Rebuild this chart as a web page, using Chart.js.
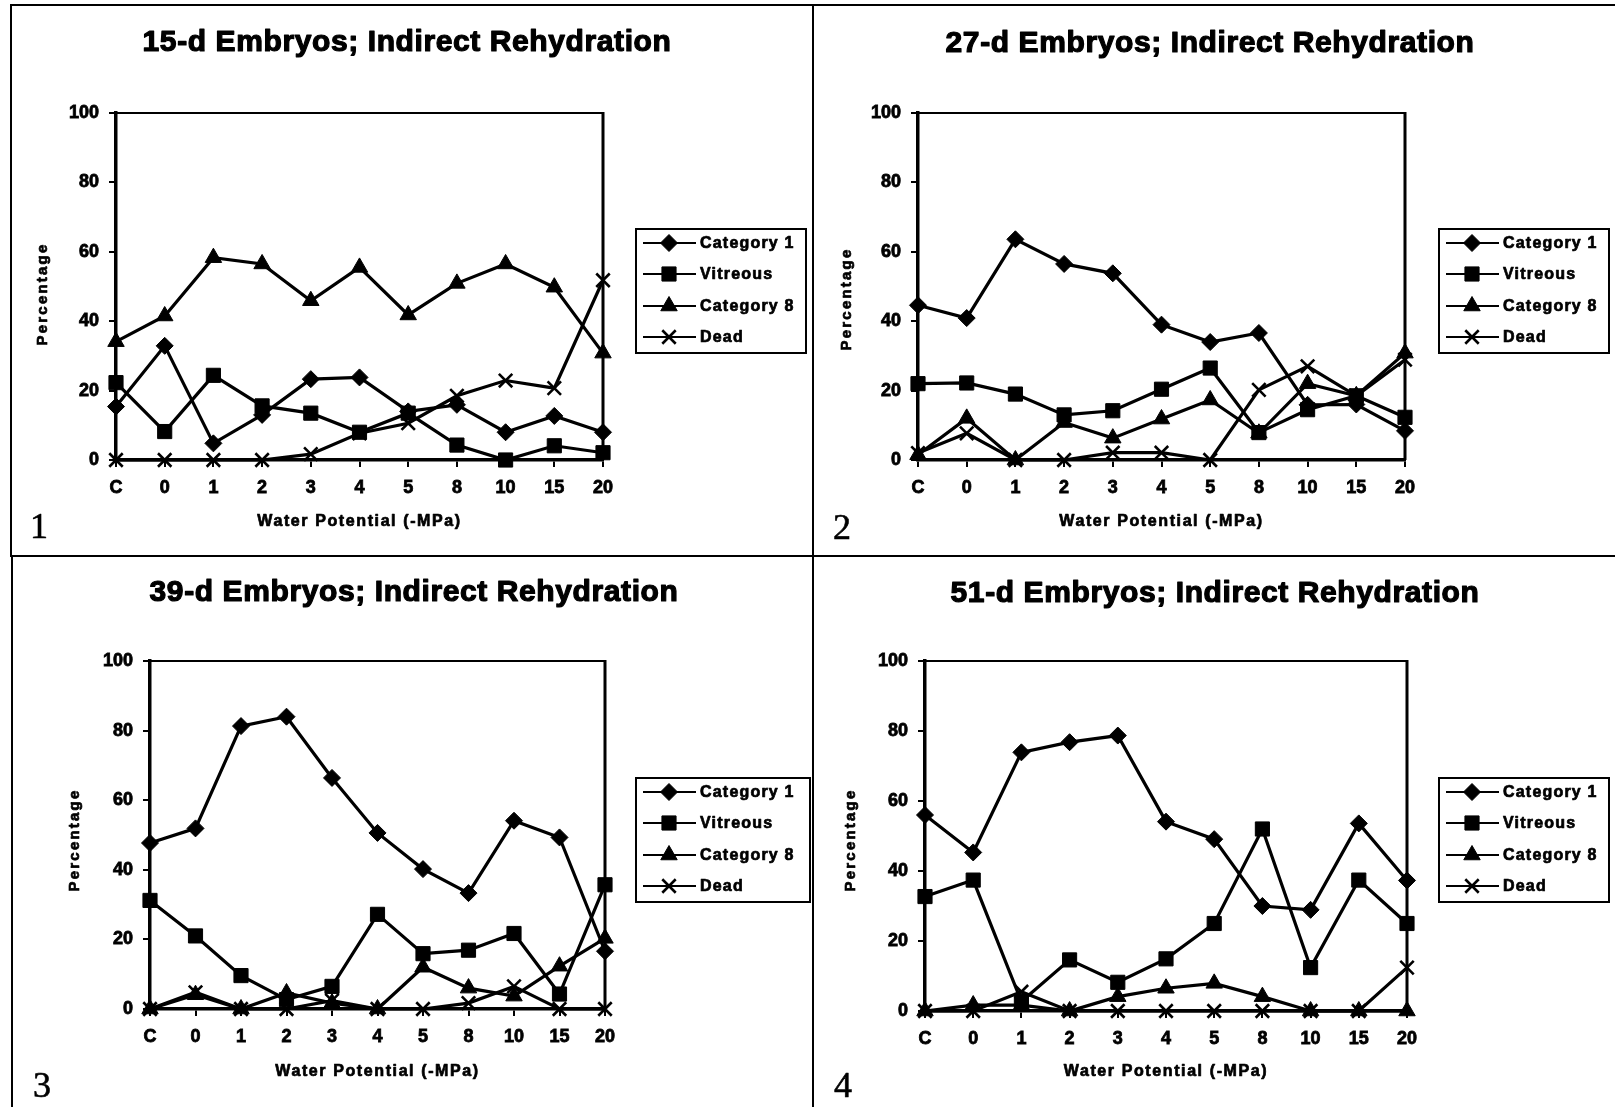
<!DOCTYPE html>
<html>
<head>
<meta charset="utf-8">
<title>Embryo survival after indirect rehydration</title>
<script src="https://cdn.jsdelivr.net/npm/chart.js@4.4.1/dist/chart.umd.min.js"></script>
<style>
  html, body { margin: 0; padding: 0; background: #fff; }
  body { width: 1615px; height: 1107px; position: relative; overflow: hidden; }
  .rule { position: absolute; background: #000; }
  canvas { position: absolute; }
</style>
</head>
<body>
<!-- figure frame and panel dividers -->
<div class="rule" style="left:10px;top:4px;width:1605px;height:2px"></div>
<div class="rule" style="left:10px;top:4px;width:2px;height:553px"></div>
<div class="rule" style="left:11px;top:556px;width:2px;height:551px"></div>
<div class="rule" style="left:812px;top:4px;width:2px;height:1103px"></div>
<div class="rule" style="left:10px;top:555px;width:1605px;height:2px"></div>

<canvas id="p1" width="802" height="551" style="left:11px;top:5px"></canvas>
<canvas id="p2" width="802" height="551" style="left:813px;top:5px"></canvas>
<canvas id="p3" width="802" height="551" style="left:12px;top:556px"></canvas>
<canvas id="p4" width="801" height="551" style="left:814px;top:556px"></canvas>

<script>
// ---- data -------------------------------------------------------------
const waterPotential = ['C', '0', '1', '2', '3', '4', '5', '8', '10', '15', '20'];
const seriesNames = ['Category 1', 'Vitreous', 'Category 8', 'Dead'];
const yTicks = [0, 20, 40, 60, 80, 100];

// 15-d embryos
const cat1_15d = [15.4, 32.9, 4.8, 13.0, 23.3, 23.8, 14.0, 15.9, 8.0, 12.7, 8.0];
const vitreous_15d = [22.3, 8.2, 24.4, 15.6, 13.5, 8.0, 13.5, 4.3, 0, 4.1, 2.1];
const cat8_15d = [34.1, 41.5, 58.3, 56.5, 45.9, 55.5, 41.8, 50.9, 56.5, 49.8, 30.8];
const dead_15d = [0, 0, 0, 0, 1.7, 7.7, 10.6, 18.5, 22.9, 20.7, 51.8];

// 27-d embryos
const cat1_27d = [44.6, 40.9, 63.6, 56.5, 53.8, 39.0, 34.0, 36.6, 15.9, 16.0, 8.4];
const vitreous_27d = [22.0, 22.2, 19.0, 13.0, 14.2, 20.4, 26.5, 7.9, 14.5, 18.5, 12.3];
const cat8_27d = [1.5, 12.0, 0, 10.8, 6.3, 11.8, 17.3, 7.7, 22.0, 18.5, 30.8];
const dead_27d = [2.0, 7.7, 0, 0, 2.1, 2.1, 0, 20.2, 27.0, 18.5, 28.9];

// 39-d embryos
const cat1_39d = [47.7, 51.9, 81.3, 84.0, 66.4, 50.6, 40.2, 33.3, 54.1, 49.3, 16.6];
const vitreous_39d = [31.2, 21.0, 9.6, 2.7, 6.5, 27.2, 15.9, 16.9, 21.7, 4.3, 35.7];
const cat8_39d = [0, 4.1, 0, 4.6, 1.7, 0, 12.0, 6.0, 3.7, 12.3, 20.3];
const dead_39d = [0, 4.8, 0, 0, 2.4, 0, 0, 1.7, 6.5, 0, 0];

// 51-d embryos
const cat1_51d = [56.0, 45.3, 73.9, 76.8, 78.7, 54.1, 49.1, 30.0, 28.9, 53.6, 37.3];
const vitreous_51d = [32.7, 37.4, 2.7, 14.6, 8.2, 14.9, 25.0, 52.0, 12.4, 37.4, 25.0];
const cat8_51d = [0, 1.7, 1.7, 0, 4.1, 6.5, 7.9, 4.1, 0, 0, 0];
const dead_51d = [0, 0, 5.5, 0, 0, 0, 0, 0, 0, 0, 12.4];

// ---- styling ----------------------------------------------------------
const FONT = '"Liberation Sans", Arial, Helvetica, sans-serif';
const SERIF = '"Liberation Serif", "Times New Roman", serif';
const markers = [
  { pointStyle: 'rectRot', radius: 8.5, borderWidth: 1 },
  { pointStyle: 'rect', radius: 10, borderWidth: 1 },
  { pointStyle: 'triangle', radius: 9.5, borderWidth: 1 },
  { pointStyle: 'crossRot', radius: 9.5, borderWidth: 2.6 }
];
const Y_AXIS_W = 60;
const X_AXIS_H = 40;

Chart.defaults.color = '#000';
Chart.defaults.font.family = FONT;

function drawMarker(ctx, m, x, y) {
  ctx.fillStyle = '#000';
  ctx.strokeStyle = '#000';
  ctx.lineWidth = m.borderWidth;
  if (Chart.helpers && Chart.helpers.drawPoint) {
    Chart.helpers.drawPoint(ctx, { pointStyle: m.pointStyle, radius: m.radius, rotation: 0, borderWidth: m.borderWidth }, x, y);
  }
}

// filled text with an optional thin outline to give the heavy print weight
function text(ctx, str, x, y, font, align, baseline, spacing, rotate, stroke) {
  ctx.save();
  ctx.font = font;
  ctx.fillStyle = '#000';
  ctx.strokeStyle = '#000';
  ctx.textAlign = align;
  ctx.textBaseline = baseline;
  try { ctx.letterSpacing = (spacing || 0) + 'px'; } catch (e) {}
  ctx.translate(x, y);
  if (rotate) ctx.rotate(rotate);
  ctx.fillText(str, 0, 0);
  if (stroke) {
    ctx.lineWidth = stroke;
    ctx.lineJoin = 'round';
    ctx.strokeText(str, 0, 0);
  }
  ctx.restore();
}

// frame around the plot area, titles, legend box and panel number
const panelDecor = {
  id: 'panelDecor',
  beforeDatasetsDraw(chart, args, o) {
    const { ctx, chartArea: a } = chart;
    ctx.save();
    ctx.strokeStyle = '#000';
    ctx.lineWidth = 2;
    ctx.beginPath();
    ctx.moveTo(a.left, a.top);
    ctx.lineTo(a.right, a.top);
    ctx.stroke();
    ctx.lineWidth = 3;
    ctx.beginPath();
    ctx.moveTo(a.right, a.top - 1);
    ctx.lineTo(a.right, a.bottom);
    ctx.stroke();
    ctx.restore();
  },
  afterDraw(chart, args, o) {
    const { ctx, chartArea: a } = chart;
    const ox = o.origin[0], oy = o.origin[1];
    // title
    text(ctx, o.title, o.titlePos[0] - ox, o.titlePos[1] - oy, 'bold 30px ' + FONT, 'center', 'middle', 0.6, 0, 1.2);
    // axis titles
    text(ctx, 'Water Potential (-MPa)', (a.left + a.right) / 2, o.xTitleY - oy, 'bold 16px ' + FONT, 'center', 'middle', 1.6, 0, 0.7);
    text(ctx, 'Percentage', o.yTitlePos[0] - ox, o.yTitlePos[1] - oy, 'bold 15px ' + FONT, 'center', 'middle', 2.2, -Math.PI / 2, 0.7);
    // panel number
    text(ctx, o.number, o.numberPos[0] - ox, o.numberPos[1] - oy, '36px ' + SERIF, 'left', 'alphabetic', 0, 0, 0.6);
    // legend
    const b = o.legendBox;
    const L = b[0] - ox, T = b[1] - oy, R = b[2] - ox, B = b[3] - oy;
    ctx.save();
    ctx.strokeStyle = '#000';
    ctx.lineWidth = 2;
    ctx.strokeRect(L, T, R - L, B - T);
    ctx.restore();
    const rowOffsets = [14, 45, 77, 108];
    seriesNames.forEach((name, i) => {
      const y = T + rowOffsets[i];
      ctx.save();
      ctx.strokeStyle = '#000';
      ctx.lineWidth = 2.2;
      ctx.beginPath();
      ctx.moveTo(L + 7, y);
      ctx.lineTo(L + 60, y);
      ctx.stroke();
      drawMarker(ctx, markers[i], L + 33, y);
      ctx.restore();
      text(ctx, name, L + 64, y + 1, 'bold 16px ' + FONT, 'left', 'middle', 1.2, 0, 0.7);
    });
  }
};

function makePanel(cfg) {
  const canvas = document.getElementById(cfg.id);
  const cx = cfg.canvas[0], cy = cfg.canvas[1];
  const cw = canvas.width, ch = canvas.height;
  const area = cfg.area; // [left, top, right, bottom] on the page
  const padding = {
    left: area[0] - cx - Y_AXIS_W,
    top: area[1] - cy,
    right: cx + cw - area[2],
    bottom: cy + ch - area[3] - X_AXIS_H
  };
  const datasets = seriesNames.map((name, i) => ({
    label: name,
    data: cfg.series[i],
    borderColor: '#000',
    backgroundColor: '#000',
    borderWidth: 3.2,
    pointStyle: markers[i].pointStyle,
    pointRadius: markers[i].radius,
    pointBorderWidth: markers[i].borderWidth,
    pointBackgroundColor: '#000',
    pointBorderColor: '#000',
    tension: 0,
    clip: false
  }));
  const tickGrid = { drawOnChartArea: false, drawTicks: true, tickLength: 7, color: '#000', lineWidth: 2 };
  const tickFont = { size: 18, weight: 'bold' };
  return new Chart(canvas, {
    type: 'line',
    data: { labels: waterPotential, datasets },
    plugins: [panelDecor],
    options: {
      responsive: false,
      animation: false,
      layout: { padding },
      plugins: {
        legend: { display: false },
        title: { display: false },
        tooltip: { enabled: false },
        panelDecor: {
          origin: [cx, cy],
          title: cfg.title,
          titlePos: cfg.titlePos,
          xTitleY: cfg.xTitleY,
          yTitlePos: cfg.yTitlePos,
          number: cfg.number,
          numberPos: cfg.numberPos,
          legendBox: cfg.legendBox
        }
      },
      scales: {
        x: {
          type: 'category',
          offset: false,
          grid: tickGrid,
          border: { display: true, color: '#000', width: 3.5 },
          ticks: { font: tickFont, padding: 10, maxRotation: 0, autoSkip: false, textStrokeColor: '#000', textStrokeWidth: 0.8 },
          afterFit(s) { s.height = X_AXIS_H; }
        },
        y: {
          min: yTicks[0],
          max: yTicks[yTicks.length - 1],
          afterBuildTicks(s) { s.ticks = yTicks.map(v => ({ value: v })); },
          grid: tickGrid,
          border: { display: true, color: '#000', width: 3.5 },
          ticks: { font: tickFont, padding: 10, textStrokeColor: '#000', textStrokeWidth: 0.8 },
          afterFit(s) { s.width = Y_AXIS_W; }
        }
      }
    }
  });
}

makePanel({
  id: 'p1', canvas: [11, 5], area: [116, 113, 603, 460],
  title: '15-d Embryos; Indirect Rehydration', titlePos: [407, 43],
  xTitleY: 522, yTitlePos: [43, 294], number: '1', numberPos: [30, 538],
  legendBox: [636, 229, 806, 353],
  series: [cat1_15d, vitreous_15d, cat8_15d, dead_15d]
});
makePanel({
  id: 'p2', canvas: [813, 5], area: [918, 113, 1405, 460],
  title: '27-d Embryos; Indirect Rehydration', titlePos: [1210, 44],
  xTitleY: 522, yTitlePos: [847, 299], number: '2', numberPos: [833, 539],
  legendBox: [1439, 229, 1609, 353],
  series: [cat1_27d, vitreous_27d, cat8_27d, dead_27d]
});
makePanel({
  id: 'p3', canvas: [12, 556], area: [150, 661, 605, 1009],
  title: '39-d Embryos; Indirect Rehydration', titlePos: [414, 593],
  xTitleY: 1072, yTitlePos: [75, 840], number: '3', numberPos: [33, 1097],
  legendBox: [636, 778, 810, 902],
  series: [cat1_39d, vitreous_39d, cat8_39d, dead_39d]
});
makePanel({
  id: 'p4', canvas: [814, 556], area: [925, 661, 1407, 1011],
  title: '51-d Embryos; Indirect Rehydration', titlePos: [1215, 594],
  xTitleY: 1072, yTitlePos: [851, 840], number: '4', numberPos: [834, 1097],
  legendBox: [1439, 778, 1609, 902],
  series: [cat1_51d, vitreous_51d, cat8_51d, dead_51d]
});
</script>
</body>
</html>
